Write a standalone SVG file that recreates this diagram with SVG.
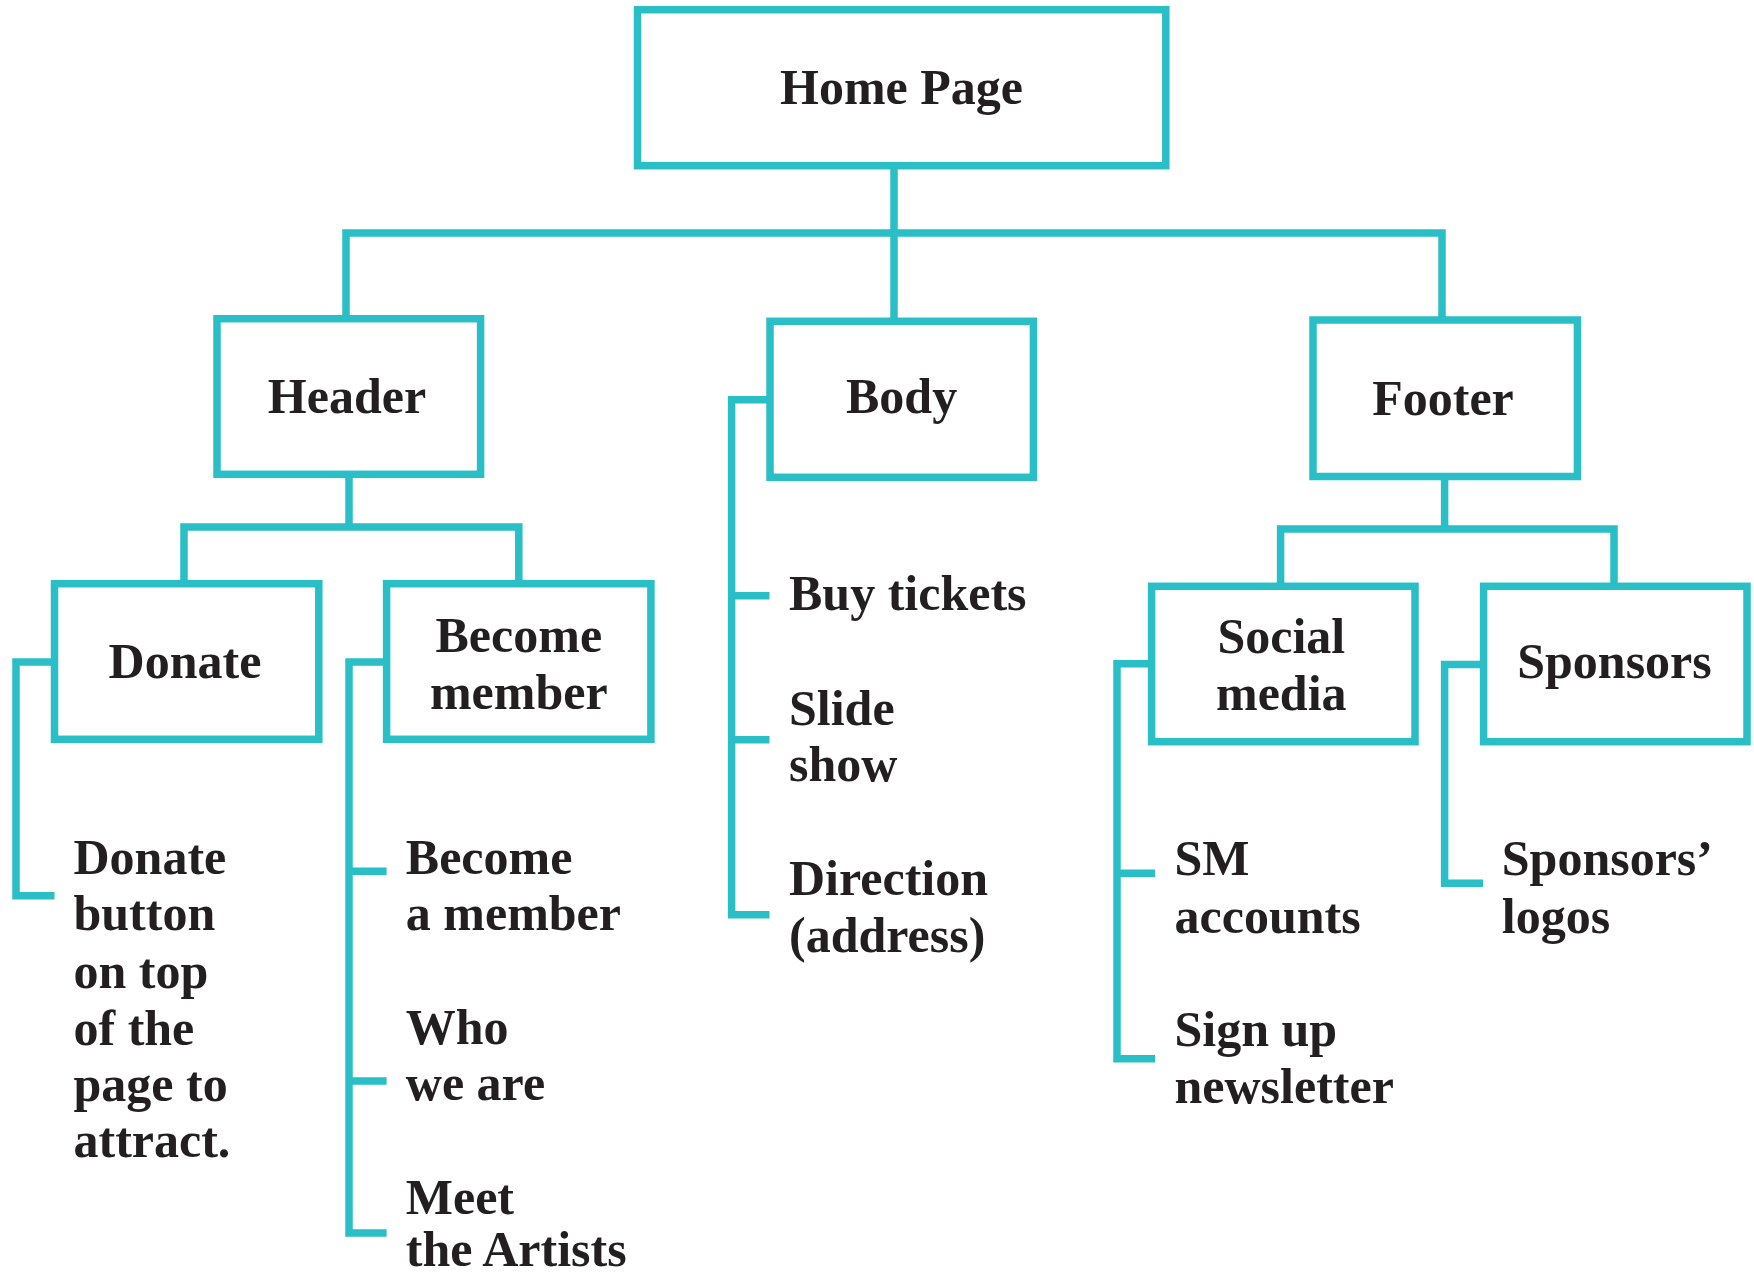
<svg xmlns="http://www.w3.org/2000/svg" width="1754" height="1276" viewBox="0 0 1754 1276">
<style>
.box{fill:#ffffff;stroke:#2abec6;stroke-width:7.5}
.ln{fill:none;stroke:#2abec6;stroke-width:7.5;stroke-linejoin:miter;stroke-linecap:butt}
text{font-family:"Liberation Serif","Times New Roman",serif;font-weight:bold;font-size:50px;fill:#231f20}
.c{text-anchor:middle}
</style>
<rect width="1754" height="1276" fill="#ffffff"/>
<g id="connectors">
<path class="ln" d="M894,165.7 V321.3"/>
<path class="ln" d="M346,318.7 V233 H1442 V320"/>
<path class="ln" d="M349,474.3 V527"/>
<path class="ln" d="M184,583.7 V527 H518.8 V583.7"/>
<path class="ln" d="M1444.6,476.5 V529"/>
<path class="ln" d="M1280.6,586.3 V529 H1614 V586.3"/>
<path class="ln" d="M54.5,662 H16 V895.7 H54.5"/>
<path class="ln" d="M386.6,662 H349 V1233 H386.6 M349,871.3 H386.6 M349,1081 H386.6"/>
<path class="ln" d="M770,399.7 H731.6 V914.7 H769.5 M731.6,595.7 H769.5 M731.6,739.7 H769.5"/>
<path class="ln" d="M1151.6,663.7 H1117 V1058.7 H1155 M1117,873.3 H1155"/>
<path class="ln" d="M1483.6,664.5 H1444.6 V883.3 H1483"/>
</g>
<g id="home">
<rect class="box" x="637.5" y="9.7" width="528.3" height="156"/>
<text class="c" x="901.5" y="104">Home Page</text>
</g>
<g id="header">
<rect class="box" x="217" y="318.7" width="263.6" height="155.6"/>
<text class="c" x="347" y="412.5">Header</text>
</g>
<g id="body">
<rect class="box" x="770" y="321.3" width="263.4" height="156"/>
<text class="c" x="901.6" y="412.5">Body</text>
</g>
<g id="footer">
<rect class="box" x="1313" y="320" width="264.4" height="156.5"/>
<text class="c" x="1443" y="415">Footer</text>
</g>
<g id="donate">
<rect class="box" x="54.5" y="583.7" width="264.3" height="155.6"/>
<text class="c" x="185" y="678.3">Donate</text>
</g>
<g id="become-member">
<rect class="box" x="386.6" y="583.7" width="264.3" height="155.6"/>
<text class="c" x="518.8" y="651.6">Become</text>
<text class="c" x="518.8" y="708.6">member</text>
</g>
<g id="social-media">
<rect class="box" x="1151.6" y="586.3" width="263.4" height="155.4"/>
<text class="c" x="1281.3" y="653.3">Social</text>
<text class="c" x="1281.3" y="710">media</text>
</g>
<g id="sponsors">
<rect class="box" x="1483.6" y="586.3" width="263.4" height="155.4"/>
<text class="c" x="1614.5" y="678.3">Sponsors</text>
</g>
<g id="donate-items">
<text x="73.5" y="873.5">Donate</text>
<text x="73.5" y="930.1">button</text>
<text x="73.5" y="987.8">on top</text>
<text x="73.5" y="1044.5">of the</text>
<text x="73.5" y="1100.5">page to</text>
<text x="73.5" y="1157.1">attract.</text>
</g>
<g id="become-items">
<text x="405.8" y="873.5">Become</text>
<text x="405.8" y="930.1">a member</text>
<text x="405.8" y="1043.5">Who</text>
<text x="405.8" y="1100.1">we are</text>
<text x="405.8" y="1213.5">Meet</text>
<text x="405.8" y="1266">the Artists</text>
</g>
<g id="body-items">
<text x="789" y="610.3">Buy tickets</text>
<text x="789" y="724.7">Slide</text>
<text x="789" y="781.3">show</text>
<text x="789" y="895.3">Direction</text>
<text x="789" y="952">(address)</text>
</g>
<g id="social-items">
<text x="1174.5" y="875.3">SM</text>
<text x="1174.5" y="932.7">accounts</text>
<text x="1174.5" y="1046">Sign up</text>
<text x="1174.5" y="1102.7">newsletter</text>
</g>
<g id="sponsors-items">
<text x="1501.8" y="875.3">Sponsors’</text>
<text x="1501.8" y="932.7">logos</text>
</g>
</svg>
